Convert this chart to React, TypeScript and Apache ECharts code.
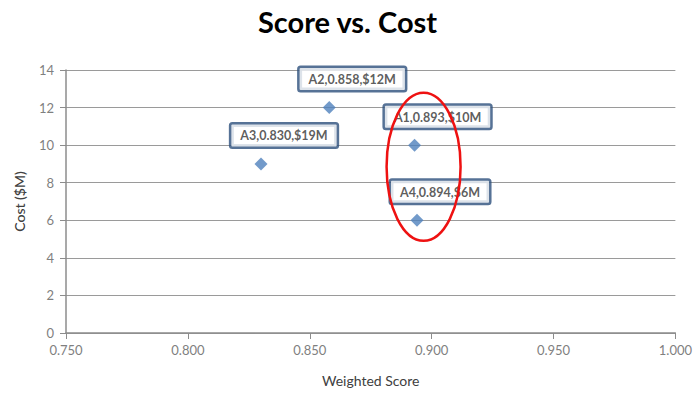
import React, { useEffect, useRef } from "react";
import * as echarts from "echarts";

const names = ["A1", "A2", "A3", "A4"];
const scores = [0.893, 0.858, 0.83, 0.894];
const costs = [10, 12, 9, 6];
const costLabels = ["$10M", "$12M", "$19M", "$6M"];
const title = "Score vs. Cost";
const xName = "Weighted Score";
const yName = "Cost ($M)";
const highlightCenter = [0.8967, 8.85];

export default function App() {
  const ref = useRef<HTMLDivElement>(null);
  useEffect(() => {
    document.body.style.margin = "0";
    const chart = echarts.init(ref.current!, undefined, { renderer: "svg" });
    const data = names.map((n, i) => ({
      value: [scores[i], costs[i]],
      label: { formatter: `${n},${scores[i].toFixed(3)},${costLabels[i]}` },
    }));
    chart.setOption({
      animation: false,
      title: {
        text: title,
        left: "center",
        top: 2,
        textStyle: { fontFamily: "Lato", fontWeight: "bold", fontSize: 29, color: "#000" },
      },
      grid: { left: 66, right: 17, top: 70, bottom: 70 },
      xAxis: {
        type: "value",
        min: 0.75,
        max: 1.0,
        interval: 0.05,
        name: xName,
        nameLocation: "middle",
        nameGap: 40,
        nameTextStyle: { fontFamily: "Lato", fontSize: 14, color: "#404040" },
        axisLine: { show: true, lineStyle: { color: "#8c8c8c", width: 1.5 } },
        axisTick: { show: true, inside: false, length: 6, lineStyle: { color: "#8c8c8c" } },
        axisLabel: {
          formatter: (v: number) => v.toFixed(3),
          fontFamily: "Lato",
          fontSize: 13,
          color: "#7f7f7f",
          margin: 10,
        },
        splitLine: { show: false },
      },
      yAxis: {
        type: "value",
        min: 0,
        max: 14,
        interval: 2,
        name: yName,
        nameLocation: "middle",
        nameGap: 40,
        nameTextStyle: { fontFamily: "Lato", fontSize: 14, fontWeight: 500, color: "#404040" },
        axisLine: { show: true, lineStyle: { color: "#8c8c8c", width: 1.5 } },
        axisTick: { show: true, inside: false, length: 6, lineStyle: { color: "#8c8c8c" } },
        axisLabel: { fontFamily: "Lato", fontSize: 13, color: "#7f7f7f", margin: 12 },
        splitLine: { show: true, lineStyle: { color: "#9a9a9a", width: 1 } },
      },
      series: [
        {
          type: "scatter",
          symbol: "diamond",
          symbolSize: 13,
          itemStyle: { color: "#4f81bd" },
          data,
          label: {
            show: true,
            position: "top",
            offset: [23, -6],
            backgroundColor: "#fff",
            borderColor: "#2c4f7c",
            borderWidth: 2.5,
            borderRadius: 1,
            padding: [5, 9, 4, 9],
            fontFamily: "Lato",
            fontWeight: "bold",
            fontSize: 12.5,
            color: "#333",
          },
        },
      ],
    });
    const c = chart.convertToPixel({ gridIndex: 0 }, highlightCenter) as number[];
    chart.setOption({
      graphic: [
        {
          type: "ellipse",
          shape: { cx: c[0], cy: c[1], rx: 37, ry: 74 },
          style: { fill: "none", stroke: "#ee1111", lineWidth: 2.5 },
          z: 100,
        },
      ],
    });
    return () => chart.dispose();
  }, []);
  return <div ref={ref} style={{ width: 695, height: 403 }} />;
}
